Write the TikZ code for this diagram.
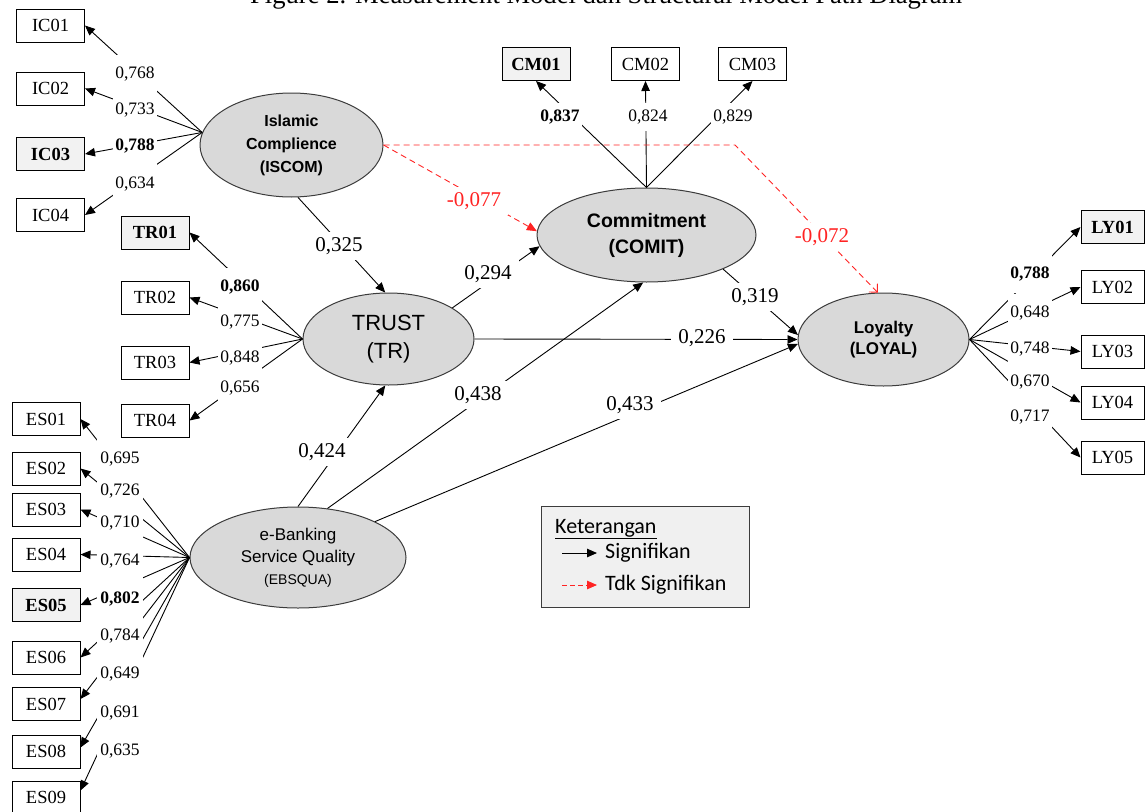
\documentclass[tikz,border=0pt]{standalone}
\usepackage{fontspec}
\setmainfont{Liberation Serif}
\newfontfamily\arialf{Liberation Sans}
\newfontfamily\calf{Carlito}
\usetikzlibrary{arrows.meta,shapes.geometric}
\definecolor{ellgray}{RGB}{217,217,217}
\definecolor{edgegray}{RGB}{60,60,60}
\definecolor{boxgray}{RGB}{242,242,242}
\definecolor{leggray}{RGB}{240,240,240}
\definecolor{sigred}{RGB}{255,35,35}
\begin{document}
\begin{tikzpicture}[x=1pt,y=-1pt,
  box/.style={draw=black, line width=1pt, minimum width=68pt, minimum height=33pt, inner sep=0pt, fill=white, font=\fontsize{18.5}{20}\selectfont},
  boxb/.style={box, fill=boxgray, font=\fontsize{18.5}{20}\selectfont\bfseries},
  lv/.style={ellipse, draw=edgegray, line width=1pt, fill=ellgray, inner sep=0pt, align=center},
  ld/.style={draw=black, line width=0.9pt, -{Triangle[length=10pt,width=8.5pt]}},
  nsd/.style={draw=sigred, line width=0.9pt, dash pattern=on 6pt off 4pt},
  lab/.style={fill=white, inner xsep=2.5pt, inner ysep=0pt, minimum height=38pt, font=\fontsize{17.5}{18}\selectfont},
  labb/.style={lab, font=\fontsize{17.5}{18}\selectfont\bfseries},
  esl/.style={minimum height=40pt, inner xsep=3pt},
  plab/.style={fill=white, inner xsep=7pt, inner ysep=0pt, minimum height=28pt, font=\fontsize{21}{22}\selectfont},
  rlab/.style={plab, text=sigred},
  legtext/.style={anchor=west, inner sep=0pt, font={\calf\fontsize{22}{26}\selectfont}}
]
\useasboundingbox (0,0) rectangle (1145,811);
\begin{scope}
\clip (0,0) rectangle (1145,811);

% title (cut off at the top, as in the reference)
\node[anchor=base west, inner sep=0pt, font=\fontsize{26.6}{28}\selectfont] (title) at (250,3)
  {Figure 2. Measurement Model dan Structural Model Path Diagram};

% indicator boxes
\node[box]  (ic1) at (50.5,25.5) {IC01};
\node[box]  (ic2) at (50.5,88.5) {IC02};
\node[boxb] (ic3) at (50.5,154)  {IC03};
\node[box]  (ic4) at (50.5,215)  {IC04};

\node[boxb] (tr1) at (155,232.5) {TR01};
\node[box]  (tr2) at (155,297.5) {TR02};
\node[box]  (tr3) at (155,362.5) {TR03};
\node[box]  (tr4) at (155,420.5) {TR04};

\node[box]  (es1) at (46,419)   {ES01};
\node[box]  (es2) at (46,468.5) {ES02};
\node[box]  (es3) at (46,509.5) {ES03};
\node[box]  (es4) at (46,554.5) {ES04};
\node[boxb] (es5) at (46,605)   {ES05};
\node[box]  (es6) at (46,657.5) {ES06};
\node[box]  (es7) at (46,704)   {ES07};
\node[box]  (es8) at (46,751.5) {ES08};
\node[box]  (es9) at (46,797.5) {ES09};

\node[boxb] (cm1) at (536,64)   {CM01};
\node[box]  (cm2) at (645.5,64) {CM02};
\node[box]  (cm3) at (752.5,64) {CM03};

\node[boxb, minimum width=63pt] (ly1) at (1112.5,227)   {LY01};
\node[box,  minimum width=63pt] (ly2) at (1112.5,287)   {LY02};
\node[box,  minimum width=63pt] (ly3) at (1112.5,351.5) {LY03};
\node[box,  minimum width=63pt] (ly4) at (1112.5,402.5) {LY04};
\node[box,  minimum width=63pt] (ly5) at (1112.5,457.5) {LY05};

% latent variables
\node[lv, minimum width=183pt, minimum height=104pt, font={\arialf\bfseries\fontsize{16}{23}\selectfont}]
  (ISCOM) at (291.5,145) {Islamic\\Complience\\(ISCOM)};
\node[lv, minimum width=171pt, minimum height=92pt, font={\arialf\fontsize{22}{28}\selectfont}]
  (TR) at (388.5,339) {TRUST\\(TR)};
\node[lv, minimum width=219pt, minimum height=94pt, font={\arialf\bfseries\fontsize{19.5}{26}\selectfont}]
  (CM) at (646.5,235) {Commitment\\(COMIT)};
\node[lv, minimum width=171pt, minimum height=93pt, font={\arialf\bfseries\fontsize{17}{21}\selectfont}]
  (LY) at (883.5,339.5) {Loyalty\\(LOYAL)};
\node[lv, minimum width=216pt, minimum height=101pt, font={\arialf\fontsize{17}{22}\selectfont}]
  (EB) at (298,557.5) {e-Banking\\Service Quality\\{\fontsize{14}{18}\selectfont(EBSQUA)}};

% loadings (connectors)
\foreach \i in {1,...,4} \draw[ld] (ISCOM.172) -- (ic\i.east);
\foreach \i in {1,...,4} \draw[ld] (TR.180) -- (tr\i.east);
\foreach \i in {1,...,6} \draw[ld] (EB.180) -- (es\i.east);
\draw[ld] (EB.180) -- ([yshift=5pt]es7.east);
\draw[ld] (EB.180) -- ([yshift=4pt]es8.east);
\draw[ld] (EB.180) -- ([yshift=7pt]es9.east);
\foreach \i in {1,...,3} \draw[ld] (CM.90) -- (cm\i.south);
\foreach \i in {1,...,5} \draw[ld] (LY.0) -- (ly\i.west);

% structural paths
\draw[ld] (ISCOM.277) -- (TR.94);
\draw[ld] (TR.26) -- (CM.186);
\draw[ld] (TR.0) -- (LY.180);
\draw[ld] (CM.336) -- (LY.177);
\draw[ld] (EB.90) -- (TR.266);
\draw[ld] (EB.59) -- (CM.266);
\draw[ld] (EB.25) -- (LY.183);
\draw[nsd, -{Triangle[length=10pt,width=8.5pt]}, sigred] (ISCOM.0) -- (CM.178);
\coordinate (bend) at (735,145);
\draw[nsd, -{Straight Barb[length=6pt,width=12pt]}] (ISCOM.0) -- (bend) -- (LY.97);

% loading labels
\node[lab]  (lic1) at (135,74)  {0,768};
\node[lab]  (lic2) at (135,110) {0,733};
\node[labb] (lic3) at (135,146) {0,788};
\node[lab]  (lic4) at (135,184) {0,634};

\node[labb] (ltr1) at (240,287) {0,860};
\node[lab]  (ltr2) at (240,322) {0,775};
\node[lab]  (ltr3) at (240,358) {0,848};
\node[lab]  (ltr4) at (240,388) {0,656};

\node[lab, esl]  (les1) at (120,459) {0,695};
\node[lab, esl]  (les2) at (120,491) {0,726};
\node[lab, esl]  (les3) at (120,523) {0,710};
\node[lab, esl]  (les4) at (120,561) {0,764};
\node[labb, esl] (les5) at (120,599) {0,802};
\node[lab, esl]  (les6) at (120,636) {0,784};
\node[lab, esl]  (les7) at (120,674) {0,649};
\node[lab, esl]  (les8) at (120,713) {0,691};
\node[lab, esl]  (les9) at (120,751) {0,635};

\node[labb, minimum height=28pt] (lcm1) at (560,117) {0,837};
\node[lab, minimum height=28pt]  (lcm2) at (648,117) {0,824};
\node[lab, minimum height=28pt]  (lcm3) at (733,117) {0,829};

\node[labb] (lly1) at (1030,274) {0,788};
\node[lab]  (lly2) at (1030,313) {0,648};
\node[lab]  (lly3) at (1030,349) {0,748};
\node[lab]  (lly4) at (1030,382) {0,670};
\node[lab]  (lly5) at (1030,417) {0,717};

% path labels
\node[plab] (p1) at (339,246) {0,325};
\node[rlab] (p2) at (474,201) {-0,077};
\node[rlab] (p3) at (822,237) {-0,072};
\node[plab] (p4) at (488,274) {0,294};
\node[plab] (p5) at (702,338) {0,226};
\node[plab] (p6) at (755,297) {0,319};
\node[plab] (p7) at (322,452) {0,424};
\node[plab] (p8) at (478,395) {0,438};
\node[plab] (p9) at (630,405) {0,433};

% legend
\node[draw=edgegray, line width=1pt, fill=leggray, minimum width=208pt, minimum height=101pt, inner sep=0pt] (leg) at (645,556.5) {};
\node[legtext] (legt) at (555,529) {\underline{Keterangan}};
\node[legtext] (legs) at (605,553) {Signifikan};
\node[legtext] (legn) at (605,585) {Tdk Signifikan};
\coordinate (la1) at (562,553);
\coordinate (la2) at (597,553);
\coordinate (lr1) at (562,585);
\coordinate (lr2) at (597,585);
\draw[ld] (la1) -- (la2);
\draw[nsd, dash pattern=on 5pt off 3pt, -{Triangle[length=10pt,width=8.5pt]}, sigred] (lr1) -- (lr2);
\end{scope}
\end{tikzpicture}
\end{document}
